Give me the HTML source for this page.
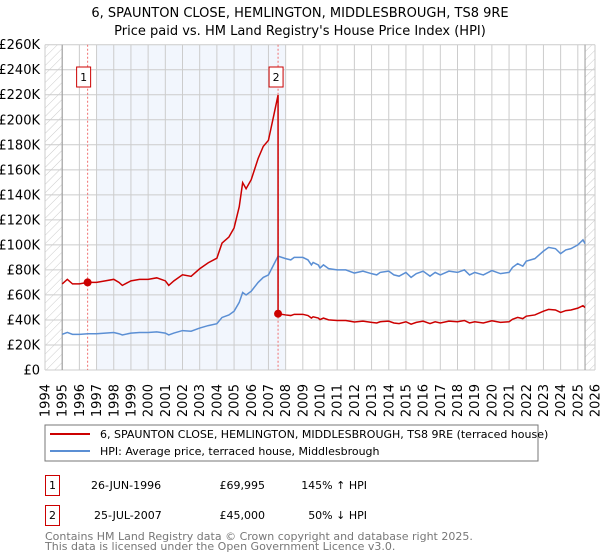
<!DOCTYPE html>
<html><head><meta charset="utf-8"><style>
body{margin:0;background:#fff;font-family:"DejaVu Sans","Liberation Sans",sans-serif;}
svg{display:block}
</style></head><body>
<svg id="c" width="600" height="560" xmlns="http://www.w3.org/2000/svg">
<defs><pattern id="hatch" width="6" height="6" patternUnits="userSpaceOnUse" patternTransform="rotate(45)"><line x1="0" y1="0" x2="0" y2="6" stroke="#ccc" stroke-width="1"/></pattern></defs>
<text x="300" y="17" text-anchor="middle" font-size="13" fill="#000">6, SPAUNTON CLOSE, HEMLINGTON, MIDDLESBROUGH, TS8 9RE</text>
<text x="300" y="35" text-anchor="middle" font-size="13" fill="#000">Price paid vs. HM Land Registry's House Price Index (HPI)</text>
<g id="plot"></g>
<rect x="45" y="425" width="493" height="36" fill="#fff" stroke="#777"/>
<line x1="50" y1="434" x2="90" y2="434" stroke="#cc0000" stroke-width="2"/>
<text x="100" y="438" font-size="11">6, SPAUNTON CLOSE, HEMLINGTON, MIDDLESBROUGH, TS8 9RE (terraced house)</text>
<line x1="50" y1="451" x2="90" y2="451" stroke="#5b8fd4" stroke-width="2"/>
<text x="100" y="455" font-size="11">HPI: Average price, terraced house, Middlesbrough</text>
<g>
<rect x="45.5" y="475.5" width="14" height="20" fill="#fff" stroke="#cc0000"/>
<text x="52.5" y="489" text-anchor="middle" font-size="11">1</text>
<text x="91" y="489" font-size="11">26-JUN-1996</text>
<text x="265" y="489" text-anchor="end" font-size="11">£69,995</text>
<text x="367" y="489" text-anchor="end" font-size="11">145% ↑ HPI</text>
</g>
<g>
<rect x="45.5" y="505.5" width="14" height="20" fill="#fff" stroke="#cc0000"/>
<text x="52.5" y="519" text-anchor="middle" font-size="11">2</text>
<text x="94" y="519" font-size="11">25-JUL-2007</text>
<text x="265" y="519" text-anchor="end" font-size="11">£45,000</text>
<text x="367" y="519" text-anchor="end" font-size="11">50% ↓ HPI</text>
</g>
<text x="45" y="540" font-size="11" fill="#777">Contains HM Land Registry data © Crown copyright and database right 2025.</text>
<text x="45" y="550" font-size="11" fill="#777">This data is licensed under the Open Government Licence v3.0.</text>
</svg>
<script>
const hpiYears=[1995.0,1995.3,1995.6,1996,1996.5,1997,1997.5,1998,1998.3,1998.5,1999,1999.5,2000,2000.5,2001,2001.2,2001.5,2002,2002.5,2003,2003.5,2004,2004.3,2004.7,2005,2005.3,2005.5,2005.7,2006,2006.4,2006.7,2007,2007.3,2007.56,2008,2008.3,2008.5,2009,2009.3,2009.5,2009.6,2009.9,2010,2010.2,2010.5,2011,2011.5,2012,2012.5,2013,2013.3,2013.5,2014,2014.3,2014.6,2015,2015.3,2015.6,2016,2016.4,2016.7,2017,2017.5,2018,2018.4,2018.7,2019,2019.5,2020,2020.5,2021,2021.2,2021.5,2021.8,2022,2022.5,2023,2023.3,2023.7,2024,2024.3,2024.6,2025,2025.3,2025.42];
const hpiValues=[28.5,30,28.5,28.5,29,29,29.5,30,29,28,29.5,30,30,30.5,29.5,28,29.5,31.5,31,33.5,35.5,37,42,44,47,54,62,60,63,70,74,76,84,91,89,88,90,90,88,84,86,84,81.5,84,81,80,80,77.5,79,77,76,78,79,76,75,78,74,77,79,75,78,76,79,78,80,76,78,76,79.5,77,78,82,85,83,87,89,95,98,97,93,96,97,100,104,101];
const saleYears=[1996.48,2007.56];
const salePrices=[69.995,45];
const yTicks=[0,20,40,60,80,100,120,140,160,180,200,220,240,260];
const yTickLabels=["£0","£20K","£40K","£60K","£80K","£100K","£120K","£140K","£160K","£180K","£200K","£220K","£240K","£260K"];
const xTicks=[1994,1995,1996,1997,1998,1999,2000,2001,2002,2003,2004,2005,2006,2007,2008,2009,2010,2011,2012,2013,2014,2015,2016,2017,2018,2019,2020,2021,2022,2023,2024,2025,2026];
const L=45,R=595,T=44.7,B=370;
const X=y=>L+(y-1994)/(2026-1994)*(R-L);
const Y=v=>B-v/260*(B-T);
const ns="http://www.w3.org/2000/svg";
const g=document.getElementById('plot');
function mk(t,a,p){const e=document.createElementNS(ns,t);for(const k in a)e.setAttribute(k,a[k]);(p||g).appendChild(e);return e;}
function hpiAt(t){for(let i=0;i<hpiYears.length-1;i++){if(t<=hpiYears[i+1]){const f=(t-hpiYears[i])/(hpiYears[i+1]-hpiYears[i]);return hpiValues[i]+f*(hpiValues[i+1]-hpiValues[i]);}}return hpiValues[hpiValues.length-1];}
let e;
e=mk('rect',{x:X(1997),y:T,width:X(2008)-X(1997),height:B-T,fill:'#f2f6fd'});


e=mk('rect',{x:L,y:T,width:X(1995)-L,height:B-T,fill:'url(#hatch)'});


e=mk('rect',{x:X(2025.42),y:T,width:R-X(2025.42),height:B-T,fill:'url(#hatch)'});


yTicks.forEach((v,i)=>{
 e=mk('line',{x1:L,x2:R,y1:Y(v),y2:Y(v),stroke:'#ccc','stroke-width':1});
 
 
 e=mk('text',{x:40,y:Y(v)+4.5,'text-anchor':'end','font-size':13});
 e.textContent=yTickLabels[i];
 
 
});
xTicks.forEach(yr=>{
 e=mk('line',{x1:X(yr),x2:X(yr),y1:T,y2:B,stroke:'#ccc','stroke-width':1});
 
 
 e=mk('text',{x:0,y:0,'text-anchor':'end','font-size':13,transform:`translate(${X(yr)+4.5},384) rotate(-90)`});
 e.textContent=yr;
 
 
});
e=mk('line',{x1:X(1995),x2:X(1995),y1:T,y2:B,stroke:'#999'});


e=mk('line',{x1:X(2025.42),x2:X(2025.42),y1:T,y2:B,stroke:'#999'});


saleYears.forEach((s,i)=>{
 e=mk('line',{x1:X(s),x2:X(s),y1:T,y2:B,stroke:'#f07070','stroke-dasharray':'2,2'});
 
 
});
e=mk('polyline',{points:hpiYears.map((t,i)=>X(t)+','+Y(hpiValues[i])).join(' '),fill:'none',stroke:'#5b8fd4','stroke-width':1.5});


const pts=[];
hpiYears.forEach((t,i)=>{
 const k=t<saleYears[1]-1e-9?0:1;
 const f=salePrices[k]/hpiAt(saleYears[k]);
 if(i>0&&hpiYears[i-1]<saleYears[1]-1e-9&&t>=saleYears[1]-1e-9){pts.push([saleYears[1],hpiAt(saleYears[1])*salePrices[0]/hpiAt(saleYears[0])]);}
 pts.push([t,hpiValues[i]*f]);
});
e=mk('polyline',{points:pts.map(p=>X(p[0])+','+Y(p[1])).join(' '),fill:'none',stroke:'#cc0000','stroke-width':1.5});


saleYears.forEach((s,i)=>{
 e=mk('circle',{cx:X(s),cy:Y(salePrices[i]),r:4,fill:'#cc0000'});
 
 
 const bx=X(s)-7-(i===0?4:2);
 e=mk('rect',{x:bx,y:67,width:14,height:20,fill:'#fff',stroke:'#cc0000'});
 
 
 e=mk('text',{x:bx+7,y:81,'text-anchor':'middle','font-size':11});
 e.textContent=String(i+1);
 
 
});
</script>
</body></html>
